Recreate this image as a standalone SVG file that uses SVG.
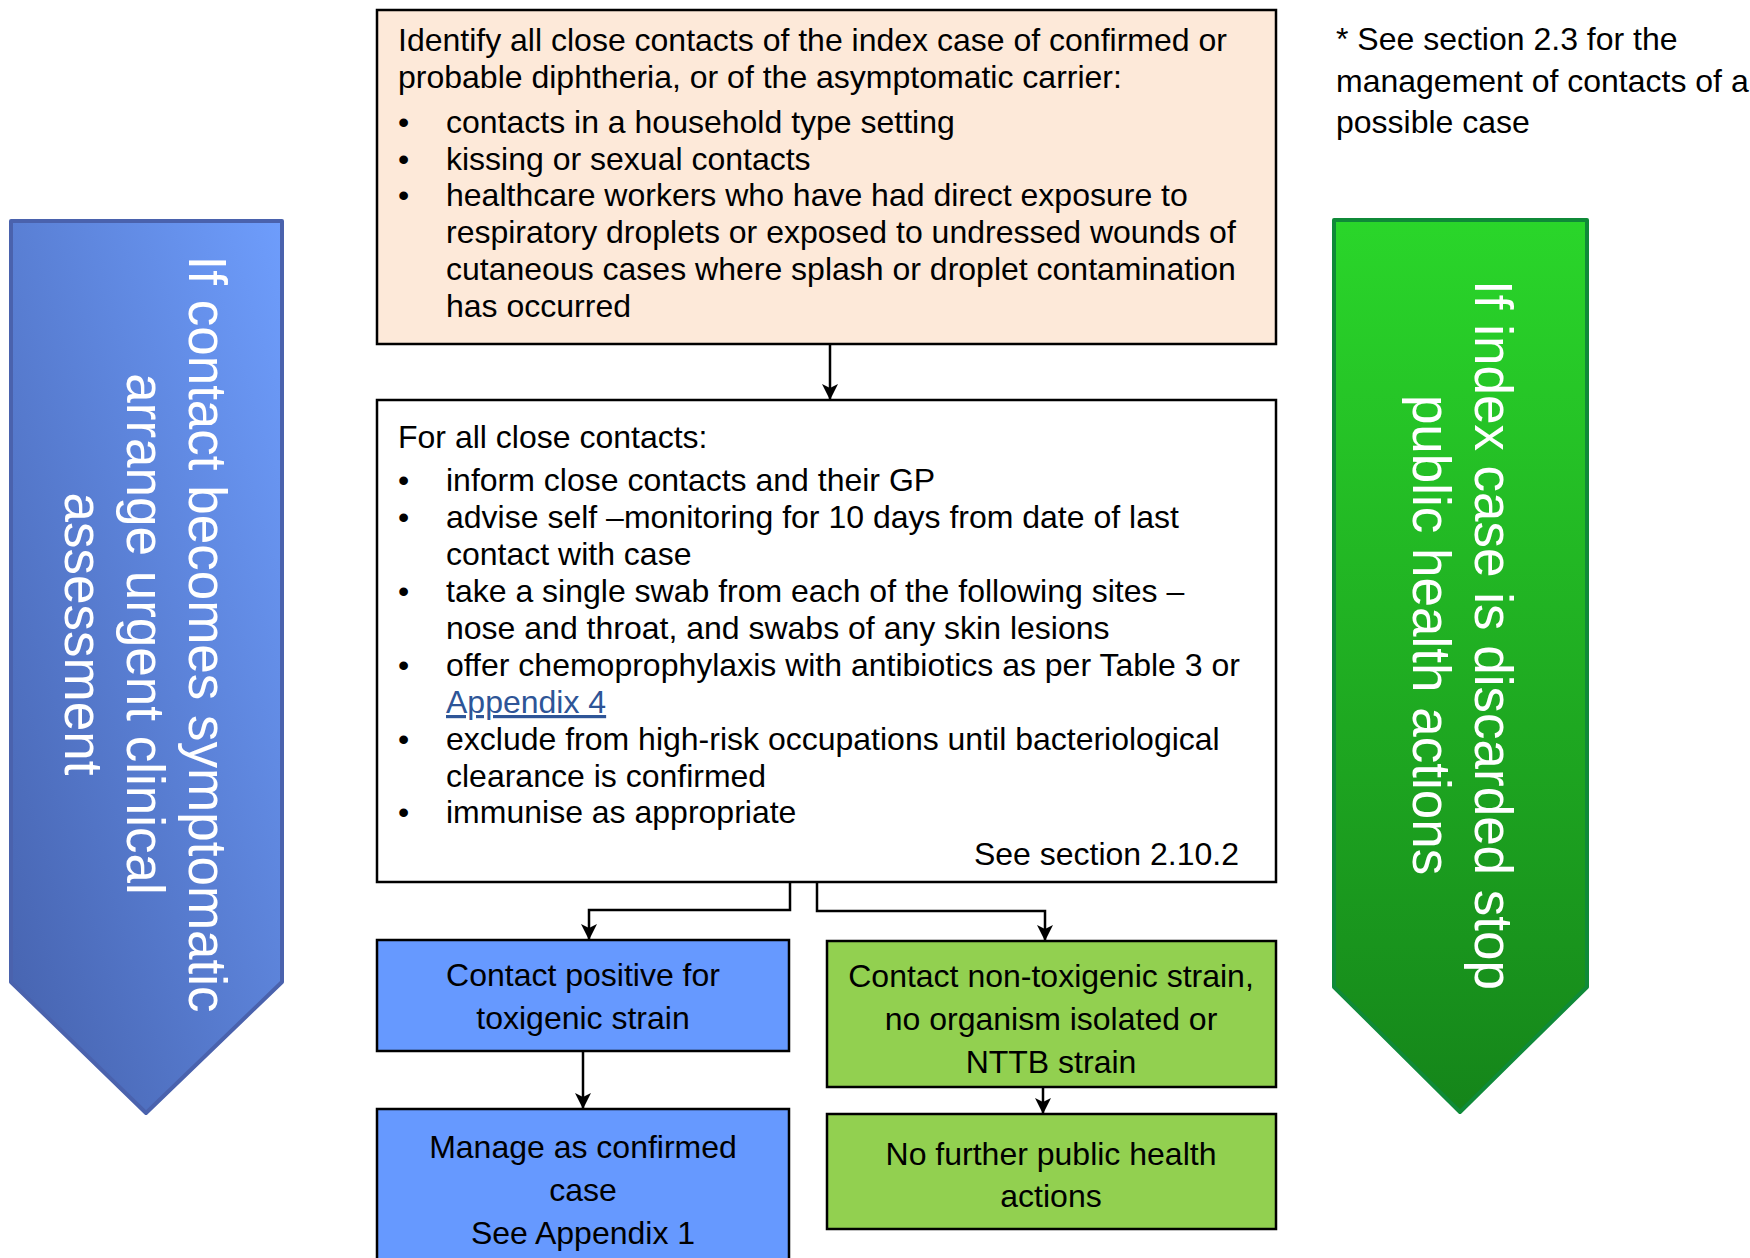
<svg xmlns="http://www.w3.org/2000/svg" width="1750" height="1258" viewBox="0 0 1750 1258">
<defs>
<linearGradient id="gBlue" x1="1" y1="0" x2="0" y2="1">
<stop offset="0" stop-color="#6E9DFC"/>
<stop offset="1" stop-color="#4561AC"/>
</linearGradient>
<linearGradient id="gGreen" x1="0" y1="0" x2="0" y2="1">
<stop offset="0" stop-color="#2AD62A"/>
<stop offset="1" stop-color="#15851A"/>
</linearGradient>
<marker id="ah" viewBox="0 0 16 16" refX="15" refY="8" markerWidth="16" markerHeight="16" markerUnits="userSpaceOnUse" orient="auto">
<path d="M0,0 L16,8 L0,16 L4,8 z" fill="#000"/>
</marker>
<style>
text{font-family:"Liberation Sans",Arial,sans-serif;font-size:32px;fill:#000}
.box{stroke:#000;stroke-width:2.5}
.c{text-anchor:middle}
.big{font-size:53px;fill:#fff;text-anchor:middle}
.conn{fill:none;stroke:#000;stroke-width:2.5;marker-end:url(#ah)}
.link{fill:#2E5597;text-decoration:underline}
</style>
</defs>

<g id="note">
<text x="1336" y="50">* See section 2.3 for the</text>
<text x="1336" y="92">management of contacts of a</text>
<text x="1336" y="133">possible case</text>
</g>

<g id="leftArrow">
<polygon points="11,221 282,221 282,982 146,1113 11,982" fill="url(#gBlue)" stroke="#4A62AD" stroke-width="4" stroke-linejoin="round"/>
<text class="big" transform="translate(189,634) rotate(90)"><tspan x="0" y="0">If contact becomes symptomatic</tspan><tspan x="0" y="62">arrange urgent clinical</tspan><tspan x="0" y="124">assessment</tspan></text>
</g>

<g id="rightArrow">
<polygon points="1334,220 1587,220 1587,987 1460,1112 1334,987" fill="url(#gGreen)" stroke="#0F8A38" stroke-width="4" stroke-linejoin="round"/>
<text class="big" transform="translate(1475,635) rotate(90)"><tspan x="0" y="0">If index case is discarded stop</tspan><tspan x="0" y="62">public health actions</tspan></text>
</g>

<g id="identify">
<rect class="box" x="377" y="10" width="899" height="334" fill="#FDE9D9"/>
<text x="398" y="51">Identify all close contacts of the index case of confirmed or</text>
<text x="398" y="88">probable diphtheria, or of the asymptomatic carrier:</text>
<text x="398" y="133">•</text><text x="446" y="133">contacts in a household type setting</text>
<text x="398" y="170">•</text><text x="446" y="170">kissing or sexual contacts</text>
<text x="398" y="206">•</text><text x="446" y="206">healthcare workers who have had direct exposure to</text>
<text x="446" y="243">respiratory droplets or exposed to undressed wounds of</text>
<text x="446" y="280">cutaneous cases where splash or droplet contamination</text>
<text x="446" y="317">has occurred</text>
</g>

<g id="allContacts">
<rect class="box" x="377" y="400" width="899" height="482" fill="#FFFFFF"/>
<text x="398" y="448">For all close contacts:</text>
<text x="398" y="491">•</text><text x="446" y="491">inform close contacts and their GP</text>
<text x="398" y="528">•</text><text x="446" y="528">advise self –monitoring for 10 days from date of last</text>
<text x="446" y="565">contact with case</text>
<text x="398" y="602">•</text><text x="446" y="602">take a single swab from each of the following sites –</text>
<text x="446" y="639">nose and throat, and swabs of any skin lesions</text>
<text x="398" y="676">•</text><text x="446" y="676">offer chemoprophylaxis with antibiotics as per Table 3 or</text>
<text x="446" y="713" class="link">Appendix 4</text>
<text x="398" y="750">•</text><text x="446" y="750">exclude from high-risk occupations until bacteriological</text>
<text x="446" y="787">clearance is confirmed</text>
<text x="398" y="823">•</text><text x="446" y="823">immunise as appropriate</text>
<text x="1239" y="865" text-anchor="end">See section 2.10.2</text>
</g>

<g id="positive">
<rect class="box" x="377" y="940" width="412" height="111" fill="#6699FF"/>
<text class="c" x="583" y="986">Contact positive for</text>
<text class="c" x="583" y="1029">toxigenic strain</text>
</g>

<g id="manage">
<rect class="box" x="377" y="1109" width="412" height="170" fill="#6699FF"/>
<text class="c" x="583" y="1158">Manage as confirmed</text>
<text class="c" x="583" y="1201">case</text>
<text class="c" x="583" y="1244">See Appendix 1</text>
</g>

<g id="nontoxigenic">
<rect class="box" x="827" y="941" width="449" height="146" fill="#92D050"/>
<text class="c" x="1051" y="987">Contact non-toxigenic strain,</text>
<text class="c" x="1051" y="1030">no organism isolated or</text>
<text class="c" x="1051" y="1073">NTTB strain</text>
</g>

<g id="noFurther">
<rect class="box" x="827" y="1114" width="449" height="115" fill="#92D050"/>
<text class="c" x="1051" y="1165">No further public health</text>
<text class="c" x="1051" y="1207">actions</text>
</g>

<g id="connectors">
<path class="conn" d="M830,344 V399"/>
<path class="conn" d="M790,882 V910 H589 V939"/>
<path class="conn" d="M817,882 V911 H1045 V940"/>
<path class="conn" d="M583,1051 V1108"/>
<path class="conn" d="M1043,1087 V1113"/>
</g>
</svg>
